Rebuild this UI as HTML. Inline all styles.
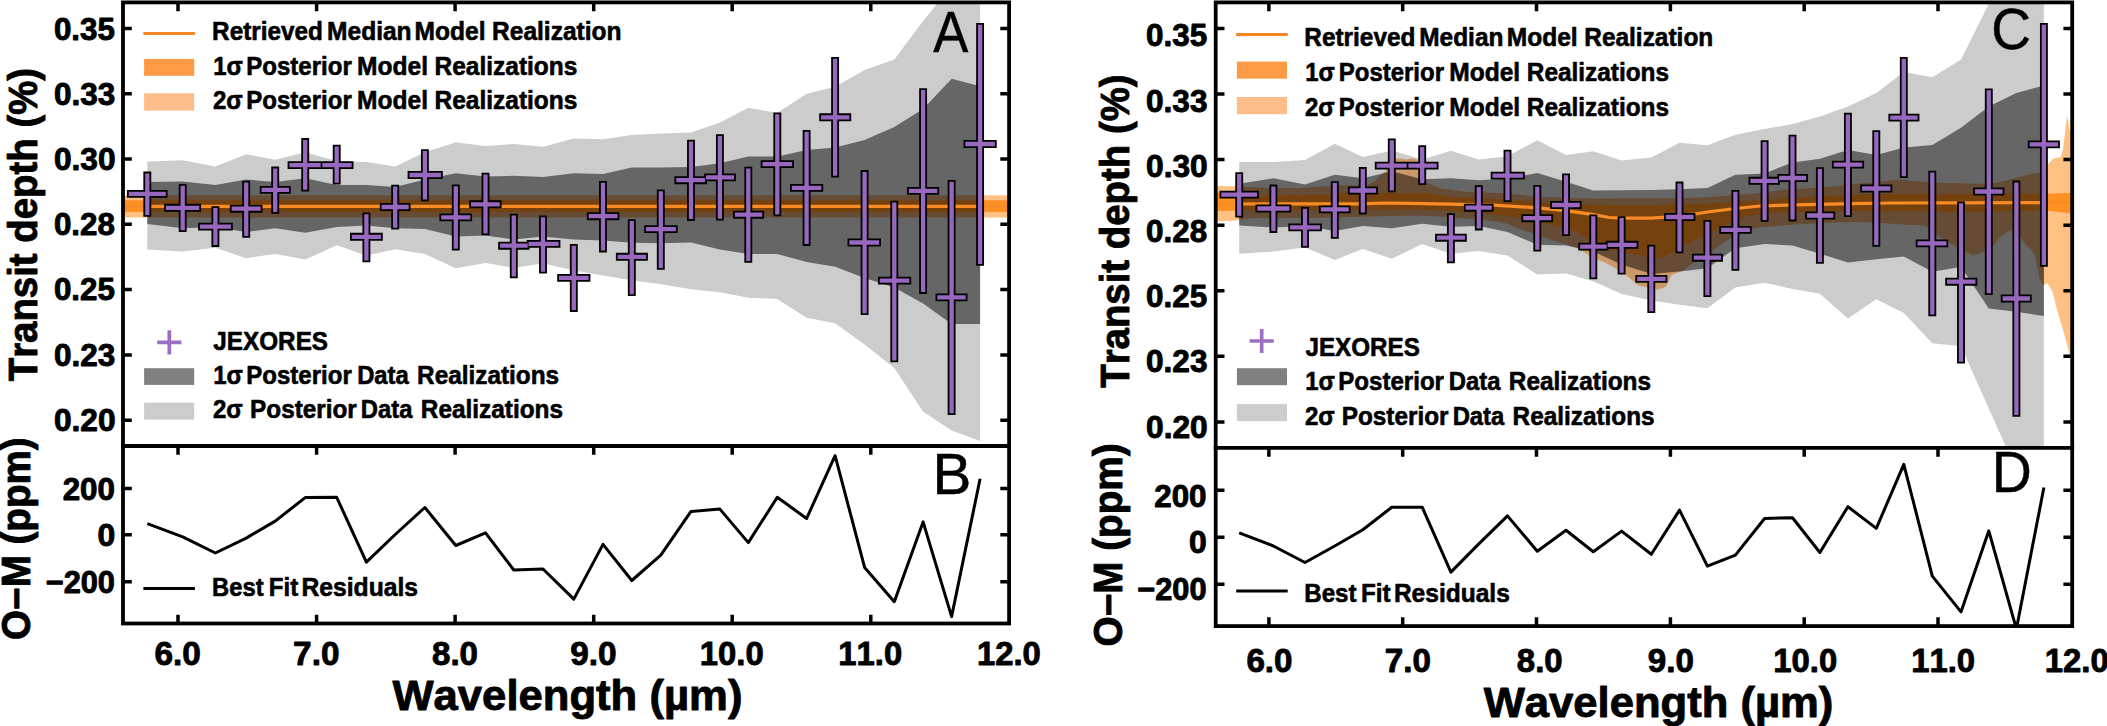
<!DOCTYPE html>
<html lang="en"><head><meta charset="utf-8"><title>Transit depth retrieval</title>
<style>html,body{margin:0;padding:0;background:#fff;overflow:hidden;}svg{display:block;}text{font-kerning:none;}</style></head><body>
<svg width="2107" height="726" viewBox="0 0 2107 726">
<rect width="2107" height="726" fill="#fff"/>
<clipPath id="cuL"><rect x="123.0" y="2.4" width="886.1" height="443.6"/></clipPath>
<clipPath id="clL"><rect x="123.0" y="446.0" width="886.1" height="177.5"/></clipPath>
<g clip-path="url(#cuL)">
<polygon points="120.0,195.3 1012.0,195.3 1012.0,217.4 120.0,217.4" fill="#ffc084"/>
<polygon points="120.0,200.2 1012.0,200.2 1012.0,212.1 120.0,212.1" fill="#ff9428"/>
<polygon points="147.3,161.4 182.7,160.2 215.4,166.4 246.2,154.2 275.2,159.7 305.2,152.2 336.7,160.9 366.4,162.1 395.2,166.4 424.9,152.2 455.8,142.3 485.5,146.0 513.8,144.0 543.0,146.8 573.8,138.6 603.0,139.3 631.8,134.9 660.8,133.6 691.0,132.4 719.9,122.6 748.3,107.8 777.3,112.8 806.6,93.7 835.1,86.8 864.6,69.9 894.3,59.5 923.1,21.0 951.6,-14.4 980.1,-45.0 980.1,441.0 951.6,430.6 923.1,411.8 894.3,367.9 864.6,344.4 835.1,323.3 806.6,317.8 777.3,299.0 748.3,297.7 719.9,292.2 691.0,289.2 660.8,284.3 631.8,280.3 603.0,275.4 573.8,270.6 543.0,263.3 513.8,268.0 485.5,263.0 455.8,268.2 424.9,254.1 395.2,249.3 366.4,255.5 336.7,245.2 305.2,259.6 275.2,253.9 246.2,258.3 215.4,247.7 182.7,251.4 147.3,249.4" fill="#000" fill-opacity="0.200"/>
<polygon points="147.3,182.0 182.7,181.5 215.4,185.0 246.2,179.5 275.2,182.0 305.2,178.3 336.7,185.0 366.4,185.0 395.2,187.0 424.9,179.5 455.8,173.3 485.5,176.5 513.8,175.8 543.0,177.0 573.8,173.3 603.0,174.0 631.8,167.6 660.8,167.6 691.0,167.1 719.9,163.2 748.3,156.4 777.3,156.4 806.6,150.0 835.1,147.5 864.6,140.0 894.3,127.0 923.1,109.0 951.6,78.8 980.1,86.3 980.1,324.0 951.6,324.0 923.1,303.4 894.3,287.5 864.6,277.9 835.1,266.8 806.6,262.0 777.3,254.0 748.3,254.0 719.9,249.6 691.0,242.4 660.8,243.2 631.8,242.7 603.0,240.6 573.8,239.6 543.0,236.5 513.8,239.5 485.5,235.5 455.8,236.5 424.9,229.1 395.2,228.3 366.4,225.4 336.7,227.1 305.2,232.8 275.2,228.3 246.2,232.0 215.4,227.1 182.7,228.3 147.3,224.1" fill="#000" fill-opacity="0.500"/>
<polygon points="120.0,200.2 1012.0,200.2 1012.0,212.1 120.0,212.1" fill="#ff7f0e" fill-opacity="0.1"/>
<polyline points="120.0,206.3 1012.0,206.3" fill="none" stroke="#f98c24" stroke-width="3.2"/>
<path d="M147.3 171.6V216.7M126.9 193.9H167.6M182.7 184.0V232.1M164.1 207.8H201.1M215.4 206.3V246.9M198.1 226.6H232.8M246.2 180.7V237.8M229.8 208.7H262.5M275.2 166.6V213.7M259.8 189.9H290.8M305.2 138.1V191.6M287.6 165.1H322.5M336.7 144.8V184.5M320.5 165.1H353.5M366.4 212.5V262.3M350.0 236.8H382.8M395.2 184.7V229.6M379.8 207.0H410.5M424.9 149.2V201.3M407.6 175.0H442.8M455.8 184.4V250.6M439.4 217.4H472.1M485.5 172.8V235.3M469.2 204.3H501.6M513.8 213.7V278.2M498.2 245.7H529.5M543.0 215.4V273.5M526.7 243.9H560.4M573.8 243.9V311.9M557.2 277.9H590.4M603.0 181.0V252.4M586.9 216.2H619.4M631.8 219.2V296.0M615.9 256.8H647.9M660.8 189.4V269.7M644.2 229.1H677.7M691.0 139.8V220.9M674.4 180.2H706.9M719.9 134.3V220.6M704.2 177.4H735.9M748.3 166.8V262.7M733.1 214.7H764.1M777.3 112.5V216.2M760.7 164.1H794.0M806.6 129.9V245.9M790.0 187.9H823.2M835.1 57.0V177.5M819.2 117.3H851.2M864.6 170.1V315.0M847.5 242.5H881.0M894.3 200.8V362.2M878.0 280.6H911.2M923.1 88.2V293.9M907.0 190.9H939.2M951.6 180.0V415.0M935.5 297.4H967.5M980.1 23.0V265.8M963.5 144.0H996.7" stroke="#000" stroke-width="7.90" fill="none"/>
<path d="M147.3 173.4V214.9M128.7 193.9H165.8M182.7 185.8V230.3M165.9 207.8H199.3M215.4 208.1V245.1M199.9 226.6H231.0M246.2 182.5V236.0M231.6 208.7H260.7M275.2 168.4V211.9M261.6 189.9H289.0M305.2 139.9V189.8M289.4 165.1H320.7M336.7 146.6V182.7M322.3 165.1H351.7M366.4 214.3V260.5M351.8 236.8H381.0M395.2 186.5V227.8M381.6 207.0H408.7M424.9 151.0V199.5M409.4 175.0H441.0M455.8 186.2V248.8M441.2 217.4H470.3M485.5 174.6V233.5M471.0 204.3H499.8M513.8 215.5V276.4M500.0 245.7H527.7M543.0 217.2V271.7M528.5 243.9H558.6M573.8 245.7V310.1M559.0 277.9H588.6M603.0 182.8V250.6M588.7 216.2H617.6M631.8 221.0V294.2M617.7 256.8H646.1M660.8 191.2V267.9M646.0 229.1H675.9M691.0 141.6V219.1M676.2 180.2H705.1M719.9 136.1V218.8M706.0 177.4H734.1M748.3 168.6V260.9M734.9 214.7H762.3M777.3 114.3V214.4M762.5 164.1H792.2M806.6 131.7V244.1M791.8 187.9H821.4M835.1 58.8V175.7M821.0 117.3H849.4M864.6 171.9V313.2M849.3 242.5H879.2M894.3 202.6V360.4M879.8 280.6H909.4M923.1 90.0V292.1M908.8 190.9H937.4M951.6 181.8V413.2M937.3 297.4H965.7M980.1 24.8V264.0M965.3 144.0H994.9" stroke="#9768be" stroke-width="4.30" fill="none"/>
</g>
<g clip-path="url(#clL)">
<polyline points="147.3,523.7 182.7,536.8 215.4,553.0 246.2,538.1 275.2,521.1 305.2,497.6 336.7,497.3 366.4,562.2 395.2,534.5 424.9,507.5 455.8,545.5 485.5,532.9 513.8,570.0 543.0,569.0 573.8,599.1 603.0,544.4 631.8,580.5 660.8,555.1 691.0,511.4 719.9,509.1 748.3,542.6 777.3,497.3 806.6,518.5 835.1,455.7 864.6,567.4 894.3,601.7 923.1,521.9 951.6,616.6 980.1,478.7" fill="none" stroke="#000" stroke-width="3.0" stroke-linejoin="round"/>
</g>
<g stroke="#000" stroke-width="3.8" fill="none" stroke-linecap="square">
<rect x="123.0" y="2.4" width="886.1" height="621.1"/>
<line x1="123.0" y1="446.0" x2="1009.1" y2="446.0"/>
</g>
<path d="M178.0 2.4v8.8M178.0 446.0v8.8M178.0 623.5v-8.8M316.6 2.4v8.8M316.6 446.0v8.8M316.6 623.5v-8.8M455.1 2.4v8.8M455.1 446.0v8.8M455.1 623.5v-8.8M593.7 2.4v8.8M593.7 446.0v8.8M593.7 623.5v-8.8M732.2 2.4v8.8M732.2 446.0v8.8M732.2 623.5v-8.8M870.8 2.4v8.8M870.8 446.0v8.8M870.8 623.5v-8.8M123.0 28.4h8.8M1009.1 28.4h-8.8M123.0 93.7h8.8M1009.1 93.7h-8.8M123.0 159.0h8.8M1009.1 159.0h-8.8M123.0 224.3h8.8M1009.1 224.3h-8.8M123.0 289.6h8.8M1009.1 289.6h-8.8M123.0 354.9h8.8M1009.1 354.9h-8.8M123.0 420.2h8.8M1009.1 420.2h-8.8M123.0 488.4h8.8M1009.1 488.4h-8.8M123.0 534.7h8.8M1009.1 534.7h-8.8M123.0 581.8h8.8M1009.1 581.8h-8.8" stroke="#000" stroke-width="3.5" fill="none"/>
<clipPath id="cuR"><rect x="1215.7" y="2.4" width="856.5" height="445.5"/></clipPath>
<clipPath id="clR"><rect x="1215.7" y="447.9" width="856.5" height="178.2"/></clipPath>
<g clip-path="url(#cuR)">
<polygon points="1213.0,186.0 1240.0,186.5 1271.0,188.0 1300.0,188.0 1339.0,185.3 1368.0,185.2 1376.0,180.0 1385.0,171.3 1396.0,159.0 1399.0,158.2 1406.0,159.6 1412.5,158.2 1417.0,159.6 1421.5,173.0 1426.4,182.3 1440.2,188.5 1467.7,192.0 1480.0,192.3 1507.5,193.5 1537.3,196.8 1566.0,197.8 1593.4,198.5 1651.0,198.2 1679.6,198.2 1707.4,197.2 1735.4,194.7 1755.0,193.5 1782.5,189.9 1823.9,187.2 1865.2,183.1 1901.0,179.6 1913.4,181.0 1947.8,183.1 1982.3,183.7 1996.0,183.1 2016.7,177.5 2030.5,174.1 2044.0,172.0 2048.5,164.0 2052.6,159.0 2060.8,156.8 2063.0,149.6 2067.0,115.5 2069.7,130.0 2075.0,135.0 2075.0,370.0 2070.0,356.0 2064.0,333.3 2057.8,312.6 2052.6,292.0 2047.4,283.3 2044.3,285.0 2042.9,284.4 2039.6,278.9 2037.4,267.9 2035.2,255.8 2030.8,249.2 2026.4,245.9 2020.9,238.1 2012.0,229.9 2007.7,231.5 1999.9,237.0 1993.3,245.9 1986.7,248.0 1982.3,252.5 1972.4,255.2 1966.9,252.5 1958.0,248.0 1947.0,241.5 1936.0,234.8 1925.0,225.5 1906.5,224.8 1865.2,222.1 1823.9,222.8 1782.5,225.5 1760.0,227.5 1748.6,229.6 1735.4,235.8 1725.2,241.3 1707.4,255.1 1694.9,262.0 1681.1,271.6 1671.5,275.1 1666.0,286.8 1657.7,289.8 1638.4,285.4 1621.6,271.6 1604.0,262.0 1593.4,257.9 1583.3,251.7 1576.4,247.5 1551.6,239.9 1521.3,229.6 1504.0,222.7 1480.0,219.5 1449.0,217.2 1421.6,215.5 1394.0,216.1 1339.0,217.2 1311.0,217.9 1250.0,218.0 1240.0,220.0 1229.0,221.0 1213.0,221.3" fill="#ffc084"/>
<polygon points="1213.0,192.4 1238.0,193.0 1245.0,195.8 1330.0,195.0 1345.0,192.9 1426.0,192.9 1449.0,196.5 1477.0,198.0 1507.5,199.6 1537.3,202.3 1566.0,203.7 1593.4,204.8 1621.6,205.1 1651.3,205.1 1679.6,204.4 1707.4,203.7 1735.4,201.6 1760.0,200.2 1796.3,197.5 1837.6,195.5 1879.0,194.1 2044.0,193.8 2075.0,193.0 2075.0,213.6 2044.3,210.6 1961.6,212.0 1920.3,211.3 1851.4,211.3 1796.3,212.0 1762.0,213.3 1741.7,217.9 1727.9,223.4 1707.4,234.4 1686.6,244.1 1672.8,252.3 1659.1,258.5 1638.4,255.1 1617.7,251.0 1597.1,245.5 1576.4,231.7 1548.9,224.1 1521.3,217.9 1480.0,212.8 1449.2,211.0 1421.6,209.6 1366.5,209.6 1339.0,210.0 1242.0,210.5 1213.0,211.0" fill="#ff9428"/>
<polygon points="1239.2,162.0 1273.4,162.0 1305.0,160.0 1334.8,143.8 1362.8,156.9 1391.8,150.4 1422.2,159.6 1450.9,150.7 1478.8,159.6 1507.5,156.2 1537.3,140.3 1566.0,155.1 1593.3,151.3 1621.6,160.6 1651.3,157.5 1679.5,142.7 1707.4,145.2 1735.4,134.8 1764.6,129.1 1792.5,124.0 1819.9,116.5 1847.9,106.6 1876.3,93.0 1903.8,71.9 1932.3,77.3 1961.0,59.5 1988.8,3.7 2016.4,-50.0 2043.9,-90.0 2043.9,520.0 2016.4,470.0 1988.8,408.5 1961.0,346.2 1932.3,343.3 1903.8,313.0 1876.3,299.3 1847.9,318.5 1819.9,293.7 1792.5,288.9 1764.6,282.7 1735.4,287.5 1707.4,308.2 1679.5,304.8 1651.3,300.6 1621.6,294.0 1593.3,281.3 1566.0,273.6 1537.3,274.5 1507.5,255.4 1478.8,250.9 1450.9,253.7 1422.2,244.0 1391.8,258.8 1362.8,248.9 1334.8,259.9 1305.0,247.5 1273.4,251.6 1239.2,253.7" fill="#000" fill-opacity="0.200"/>
<polygon points="1239.2,183.7 1273.4,178.2 1305.0,184.4 1334.8,174.8 1362.8,178.2 1391.8,171.3 1422.2,179.3 1450.9,178.2 1478.8,180.3 1507.5,178.5 1537.3,173.0 1566.0,181.7 1593.3,190.6 1621.6,190.3 1651.3,190.1 1679.5,189.2 1707.4,187.9 1735.4,174.8 1764.6,173.4 1792.5,162.4 1819.9,158.7 1847.9,150.0 1876.3,154.9 1903.8,147.5 1932.3,145.0 1961.0,127.7 1988.8,106.6 2016.4,93.0 2043.9,85.5 2043.9,316.0 2016.4,311.8 1988.8,308.4 1961.0,267.0 1932.3,271.7 1903.8,256.5 1876.3,259.3 1847.9,262.4 1819.9,253.7 1792.5,245.5 1764.6,244.0 1735.4,248.2 1707.4,268.2 1679.5,271.6 1651.3,274.0 1621.6,264.5 1593.3,251.5 1566.0,245.5 1537.3,244.8 1507.5,232.0 1478.8,226.1 1450.9,226.8 1422.2,223.8 1391.8,228.2 1362.8,226.1 1334.8,231.0 1305.0,226.1 1273.4,227.5 1239.2,225.5" fill="#000" fill-opacity="0.500"/>
<polygon points="1213.0,192.4 1238.0,193.0 1245.0,195.8 1330.0,195.0 1345.0,192.9 1426.0,192.9 1449.0,196.5 1477.0,198.0 1507.5,199.6 1537.3,202.3 1566.0,203.7 1593.4,204.8 1621.6,205.1 1651.3,205.1 1679.6,204.4 1707.4,203.7 1735.4,201.6 1760.0,200.2 1796.3,197.5 1837.6,195.5 1879.0,194.1 2044.0,193.8 2075.0,193.0 2075.0,213.6 2044.3,210.6 1961.6,212.0 1920.3,211.3 1851.4,211.3 1796.3,212.0 1762.0,213.3 1741.7,217.9 1727.9,223.4 1707.4,234.4 1686.6,244.1 1672.8,252.3 1659.1,258.5 1638.4,255.1 1617.7,251.0 1597.1,245.5 1576.4,231.7 1548.9,224.1 1521.3,217.9 1480.0,212.8 1449.2,211.0 1421.6,209.6 1366.5,209.6 1339.0,210.0 1242.0,210.5 1213.0,211.0" fill="#ff7f0e" fill-opacity="0.1"/>
<polyline points="1213.0,204.0 1360.0,203.8 1385.0,203.0 1410.0,203.3 1450.0,204.2 1493.8,205.1 1537.3,207.8 1566.0,210.6 1593.4,214.7 1609.5,217.5 1621.6,218.2 1651.3,218.2 1664.6,217.1 1679.6,215.4 1694.9,214.0 1707.4,212.0 1735.4,208.5 1760.0,206.0 1796.3,204.8 1851.4,203.7 1892.7,203.0 2044.3,202.6 2075.0,202.3" fill="none" stroke="#f98c24" stroke-width="3.2"/>
<path d="M1239.2 172.2V217.5M1219.5 194.6H1258.9M1273.4 184.6V232.9M1255.5 208.5H1291.2M1305.0 207.0V247.8M1288.3 227.4H1321.9M1334.8 181.3V238.7M1318.9 209.4H1350.6M1362.8 167.1V214.4M1347.9 190.5H1377.9M1391.8 138.5V192.2M1374.8 165.6H1408.5M1422.2 145.2V185.1M1406.6 165.6H1438.5M1450.9 213.2V263.3M1435.1 237.7H1466.8M1478.8 185.3V230.4M1463.9 207.7H1493.6M1507.5 149.7V202.0M1490.7 175.6H1524.8M1537.3 185.0V251.5M1521.4 218.2H1553.1M1566.0 173.4V236.1M1550.2 205.0H1581.6M1593.3 214.5V279.2M1578.3 246.6H1608.5M1621.6 216.2V274.5M1605.8 244.8H1638.4M1651.3 244.8V313.1M1635.3 278.9H1667.4M1679.5 181.6V253.3M1664.0 217.0H1695.4M1707.4 220.0V297.1M1692.0 257.7H1722.9M1735.4 190.0V270.7M1719.3 229.9H1751.7M1764.6 140.2V221.7M1748.5 180.8H1779.9M1792.5 134.7V221.4M1777.3 178.0H1808.0M1819.9 167.3V263.7M1805.2 215.5H1835.2M1847.9 112.8V217.0M1831.9 164.6H1864.1M1876.3 130.3V246.8M1860.2 188.5H1892.3M1903.8 57.0V178.1M1888.4 117.6H1919.4M1932.3 170.7V316.2M1915.8 243.4H1948.2M1961.0 201.5V363.6M1945.2 281.7H1977.3M1988.8 88.4V295.0M1973.2 191.5H2004.4M2016.4 180.6V416.7M2000.8 298.5H2031.7M2043.9 22.9V266.8M2027.8 144.4H2059.9" stroke="#000" stroke-width="7.90" fill="none"/>
<path d="M1239.2 174.0V215.7M1221.3 194.6H1257.1M1273.4 186.4V231.1M1257.3 208.5H1289.4M1305.0 208.8V246.0M1290.1 227.4H1320.1M1334.8 183.1V236.9M1320.7 209.4H1348.8M1362.8 168.9V212.6M1349.7 190.5H1376.1M1391.8 140.3V190.4M1376.6 165.6H1406.7M1422.2 147.0V183.3M1408.4 165.6H1436.7M1450.9 215.0V261.5M1436.9 237.7H1465.0M1478.8 187.1V228.6M1465.7 207.7H1491.8M1507.5 151.5V200.2M1492.5 175.6H1523.0M1537.3 186.8V249.7M1523.2 218.2H1551.3M1566.0 175.2V234.3M1552.0 205.0H1579.8M1593.3 216.3V277.4M1580.1 246.6H1606.7M1621.6 218.0V272.7M1607.6 244.8H1636.6M1651.3 246.6V311.3M1637.1 278.9H1665.6M1679.5 183.4V251.5M1665.8 217.0H1693.6M1707.4 221.8V295.3M1693.8 257.7H1721.1M1735.4 191.8V268.9M1721.1 229.9H1749.9M1764.6 142.0V219.9M1750.3 180.8H1778.1M1792.5 136.5V219.6M1779.1 178.0H1806.2M1819.9 169.1V261.9M1807.0 215.5H1833.4M1847.9 114.6V215.2M1833.7 164.6H1862.3M1876.3 132.1V245.0M1862.0 188.5H1890.5M1903.8 58.8V176.3M1890.2 117.6H1917.6M1932.3 172.5V314.4M1917.6 243.4H1946.4M1961.0 203.3V361.8M1947.0 281.7H1975.5M1988.8 90.2V293.2M1975.0 191.5H2002.6M2016.4 182.4V414.9M2002.6 298.5H2029.9M2043.9 24.7V265.0M2029.6 144.4H2058.1" stroke="#9768be" stroke-width="4.30" fill="none"/>
</g>
<g clip-path="url(#clR)">
<polyline points="1239.2,532.9 1273.4,546.0 1305.0,562.5 1334.8,546.0 1362.8,529.8 1391.8,507.2 1422.2,507.2 1450.9,572.1 1478.8,543.9 1507.5,515.9 1537.3,551.2 1566.0,530.3 1593.3,551.7 1621.6,531.1 1651.3,554.3 1679.5,510.1 1707.4,566.1 1735.4,555.1 1764.6,518.5 1792.5,517.7 1819.9,552.5 1847.9,506.7 1876.3,528.4 1903.8,464.3 1932.3,576.1 1961.0,611.9 1988.8,530.8 2016.4,629.0 2043.9,487.5" fill="none" stroke="#000" stroke-width="3.0" stroke-linejoin="round"/>
</g>
<g stroke="#000" stroke-width="3.8" fill="none" stroke-linecap="square">
<rect x="1215.7" y="2.4" width="856.5" height="623.7"/>
<line x1="1215.7" y1="447.9" x2="2072.2" y2="447.9"/>
</g>
<path d="M1268.9 2.4v8.8M1268.9 447.9v8.8M1268.9 626.1v-8.8M1402.7 2.4v8.8M1402.7 447.9v8.8M1402.7 626.1v-8.8M1536.5 2.4v8.8M1536.5 447.9v8.8M1536.5 626.1v-8.8M1670.4 2.4v8.8M1670.4 447.9v8.8M1670.4 626.1v-8.8M1804.2 2.4v8.8M1804.2 447.9v8.8M1804.2 626.1v-8.8M1938.0 2.4v8.8M1938.0 447.9v8.8M1938.0 626.1v-8.8M1215.7 28.5h8.8M2072.2 28.5h-8.8M1215.7 94.1h8.8M2072.2 94.1h-8.8M1215.7 159.6h8.8M2072.2 159.6h-8.8M1215.7 225.2h8.8M2072.2 225.2h-8.8M1215.7 290.8h8.8M2072.2 290.8h-8.8M1215.7 356.3h8.8M2072.2 356.3h-8.8M1215.7 421.9h8.8M2072.2 421.9h-8.8M1215.7 490.2h8.8M2072.2 490.2h-8.8M1215.7 537.3h8.8M2072.2 537.3h-8.8M1215.7 584.2h8.8M2072.2 584.2h-8.8" stroke="#000" stroke-width="3.5" fill="none"/>
<line x1="143.4" y1="33.5" x2="194.9" y2="33.5" stroke="#f28422" stroke-width="3.0"/>
<rect x="144.1" y="58.9" width="50.1" height="16.9" fill="#fd9a45"/>
<rect x="144.1" y="93.3" width="50.1" height="17.3" fill="#fdbe8b"/>
<rect x="144.1" y="368.2" width="50.1" height="16.7" fill="#808080"/>
<rect x="144.1" y="402.6" width="50.1" height="17.0" fill="#cccccc"/>
<path d="M157.2 342.3H181.4M169.3 330.2V354.4" stroke="#9d6fc4" stroke-width="3.7" fill="none"/>
<line x1="143.4" y1="588.4" x2="194.9" y2="588.4" stroke="#000" stroke-width="3"/>
<line x1="1236.2" y1="34.5" x2="1287.7" y2="34.5" stroke="#f28422" stroke-width="3.0"/>
<rect x="1236.9" y="61.6" width="50.1" height="17.1" fill="#fd9a45"/>
<rect x="1236.9" y="97.0" width="50.1" height="17.2" fill="#fdbe8b"/>
<rect x="1236.9" y="368.2" width="50.1" height="17.0" fill="#808080"/>
<rect x="1236.9" y="404.1" width="50.1" height="17.0" fill="#cccccc"/>
<path d="M1249.6 341.0H1273.8M1261.7 328.9V353.1" stroke="#9d6fc4" stroke-width="3.7" fill="none"/>
<line x1="1236.2" y1="591.0" x2="1287.7" y2="591.0" stroke="#000" stroke-width="3"/>
<g font-family="'Liberation Sans', Arial, Helvetica, sans-serif" font-weight="bold" fill="#000" stroke="#000" stroke-width="0.9" stroke-linejoin="round">
<text x="53.95" y="39.50" font-size="31.40" textLength="60.98" lengthAdjust="spacingAndGlyphs">0.35</text>
<text x="53.94" y="104.70" font-size="31.40" textLength="61.31" lengthAdjust="spacingAndGlyphs">0.33</text>
<text x="53.93" y="169.90" font-size="31.40" textLength="61.64" lengthAdjust="spacingAndGlyphs">0.30</text>
<text x="53.95" y="235.10" font-size="31.40" textLength="60.98" lengthAdjust="spacingAndGlyphs">0.28</text>
<text x="53.95" y="300.30" font-size="31.40" textLength="60.98" lengthAdjust="spacingAndGlyphs">0.25</text>
<text x="53.94" y="365.50" font-size="31.40" textLength="61.31" lengthAdjust="spacingAndGlyphs">0.23</text>
<text x="53.93" y="430.70" font-size="31.40" textLength="61.64" lengthAdjust="spacingAndGlyphs">0.20</text>
<text x="62.66" y="500.20" font-size="31.40" textLength="52.25" lengthAdjust="spacingAndGlyphs">200</text>
<text x="97.42" y="545.90" font-size="31.40" textLength="17.75" lengthAdjust="spacingAndGlyphs">0</text>
<text x="45.67" y="592.80" font-size="31.40" textLength="69.34" lengthAdjust="spacingAndGlyphs">−200</text>
<text x="154.52" y="665.10" font-size="34.00" textLength="46.37" lengthAdjust="spacingAndGlyphs">6.0</text>
<text x="293.08" y="665.10" font-size="34.00" textLength="46.37" lengthAdjust="spacingAndGlyphs">7.0</text>
<text x="431.98" y="665.10" font-size="34.00" textLength="46.02" lengthAdjust="spacingAndGlyphs">8.0</text>
<text x="570.20" y="665.10" font-size="34.00" textLength="46.37" lengthAdjust="spacingAndGlyphs">9.0</text>
<text x="699.77" y="665.10" font-size="34.00" textLength="63.89" lengthAdjust="spacingAndGlyphs">10.0</text>
<text x="838.33" y="665.10" font-size="34.00" textLength="63.89" lengthAdjust="spacingAndGlyphs">11.0</text>
<text x="976.89" y="665.10" font-size="34.00" textLength="63.89" lengthAdjust="spacingAndGlyphs">12.0</text>
<text x="392.40" y="709.90" font-size="42.60" textLength="350.03" lengthAdjust="spacingAndGlyphs">Wavelength (µm)</text>
<text transform="translate(37.10,381.28) rotate(-90)" font-size="40.20" textLength="313.37" lengthAdjust="spacingAndGlyphs">Transit depth (%)</text>
<text transform="translate(30.30,639.94) rotate(-90)" font-size="40.00" textLength="202.66" lengthAdjust="spacingAndGlyphs">O−M (ppm)</text>
<text x="1146.04" y="46.35" font-size="31.40" textLength="61.08" lengthAdjust="spacingAndGlyphs">0.35</text>
<text x="1146.04" y="111.55" font-size="31.40" textLength="61.41" lengthAdjust="spacingAndGlyphs">0.33</text>
<text x="1146.03" y="176.75" font-size="31.40" textLength="61.74" lengthAdjust="spacingAndGlyphs">0.30</text>
<text x="1146.04" y="241.95" font-size="31.40" textLength="61.08" lengthAdjust="spacingAndGlyphs">0.28</text>
<text x="1146.04" y="307.15" font-size="31.40" textLength="61.08" lengthAdjust="spacingAndGlyphs">0.25</text>
<text x="1146.04" y="372.35" font-size="31.40" textLength="61.41" lengthAdjust="spacingAndGlyphs">0.23</text>
<text x="1146.03" y="437.55" font-size="31.40" textLength="61.74" lengthAdjust="spacingAndGlyphs">0.20</text>
<text x="1154.26" y="506.60" font-size="31.40" textLength="52.25" lengthAdjust="spacingAndGlyphs">200</text>
<text x="1189.02" y="552.60" font-size="31.40" textLength="17.75" lengthAdjust="spacingAndGlyphs">0</text>
<text x="1137.27" y="599.50" font-size="31.40" textLength="69.34" lengthAdjust="spacingAndGlyphs">−200</text>
<text x="1246.42" y="671.60" font-size="33.80" textLength="46.16" lengthAdjust="spacingAndGlyphs">6.0</text>
<text x="1384.72" y="671.60" font-size="33.80" textLength="46.16" lengthAdjust="spacingAndGlyphs">7.0</text>
<text x="1516.86" y="671.60" font-size="33.80" textLength="45.81" lengthAdjust="spacingAndGlyphs">8.0</text>
<text x="1647.82" y="671.60" font-size="33.80" textLength="46.16" lengthAdjust="spacingAndGlyphs">9.0</text>
<text x="1773.33" y="671.60" font-size="33.80" textLength="63.89" lengthAdjust="spacingAndGlyphs">10.0</text>
<text x="1911.23" y="671.60" font-size="33.80" textLength="63.89" lengthAdjust="spacingAndGlyphs">11.0</text>
<text x="2044.83" y="671.60" font-size="33.80" textLength="63.89" lengthAdjust="spacingAndGlyphs">12.0</text>
<text x="1483.70" y="716.60" font-size="42.60" textLength="349.63" lengthAdjust="spacingAndGlyphs">Wavelength (µm)</text>
<text transform="translate(1129.30,387.78) rotate(-90)" font-size="40.20" textLength="313.37" lengthAdjust="spacingAndGlyphs">Transit depth (%)</text>
<text transform="translate(1121.60,646.45) rotate(-90)" font-size="40.00" textLength="203.06" lengthAdjust="spacingAndGlyphs">O−M (ppm)</text>
<text y="40.00" font-size="25.50" stroke-width="0.6"><tspan x="212.10" textLength="110.85" lengthAdjust="spacingAndGlyphs">Retrieved</tspan> <tspan x="327.08" textLength="84.51" lengthAdjust="spacingAndGlyphs">Median</tspan> <tspan x="414.58" textLength="70.91" lengthAdjust="spacingAndGlyphs">Model</tspan> <tspan x="492.08" textLength="129.36" lengthAdjust="spacingAndGlyphs">Realization</tspan></text>
<text y="74.50" font-size="25.50" stroke-width="0.6"><tspan x="213.17" textLength="29.62" lengthAdjust="spacingAndGlyphs">1σ</tspan> <tspan x="246.32" textLength="105.47" lengthAdjust="spacingAndGlyphs">Posterior</tspan> <tspan x="357.08" textLength="70.91" lengthAdjust="spacingAndGlyphs">Model</tspan> <tspan x="434.59" textLength="142.81" lengthAdjust="spacingAndGlyphs">Realizations</tspan></text>
<text y="108.80" font-size="25.50" stroke-width="0.6"><tspan x="212.98" textLength="29.81" lengthAdjust="spacingAndGlyphs">2σ</tspan> <tspan x="246.32" textLength="105.47" lengthAdjust="spacingAndGlyphs">Posterior</tspan> <tspan x="357.08" textLength="70.91" lengthAdjust="spacingAndGlyphs">Model</tspan> <tspan x="434.59" textLength="142.81" lengthAdjust="spacingAndGlyphs">Realizations</tspan></text>
<text y="349.50" font-size="25.50" stroke-width="0.6"><tspan x="213.31" textLength="114.76" lengthAdjust="spacingAndGlyphs">JEXORES</tspan></text>
<text y="383.80" font-size="25.50" stroke-width="0.6"><tspan x="213.17" textLength="29.62" lengthAdjust="spacingAndGlyphs">1σ</tspan> <tspan x="246.32" textLength="105.47" lengthAdjust="spacingAndGlyphs">Posterior</tspan> <tspan x="357.13" textLength="51.61" lengthAdjust="spacingAndGlyphs">Data</tspan> <tspan x="417.10" textLength="142.00" lengthAdjust="spacingAndGlyphs">Realizations</tspan></text>
<text y="417.50" font-size="25.50" stroke-width="0.6"><tspan x="212.98" textLength="29.81" lengthAdjust="spacingAndGlyphs">2σ</tspan> <tspan x="250.10" textLength="106.69" lengthAdjust="spacingAndGlyphs">Posterior</tspan> <tspan x="360.83" textLength="51.61" lengthAdjust="spacingAndGlyphs">Data</tspan> <tspan x="420.79" textLength="142.30" lengthAdjust="spacingAndGlyphs">Realizations</tspan></text>
<text y="595.70" font-size="25.50" stroke-width="0.6"><tspan x="212.04" textLength="51.54" lengthAdjust="spacingAndGlyphs">Best</tspan> <tspan x="268.82" textLength="29.36" lengthAdjust="spacingAndGlyphs">Fit</tspan> <tspan x="301.47" textLength="116.62" lengthAdjust="spacingAndGlyphs">Residuals</tspan></text>
<text y="46.30" font-size="25.50" stroke-width="0.6"><tspan x="1304.29" textLength="111.16" lengthAdjust="spacingAndGlyphs">Retrieved</tspan> <tspan x="1419.29" textLength="84.09" lengthAdjust="spacingAndGlyphs">Median</tspan> <tspan x="1506.78" textLength="70.91" lengthAdjust="spacingAndGlyphs">Model</tspan> <tspan x="1584.29" textLength="128.95" lengthAdjust="spacingAndGlyphs">Realization</tspan></text>
<text y="80.80" font-size="25.50" stroke-width="0.6"><tspan x="1305.17" textLength="29.62" lengthAdjust="spacingAndGlyphs">1σ</tspan> <tspan x="1338.82" textLength="105.16" lengthAdjust="spacingAndGlyphs">Posterior</tspan> <tspan x="1449.28" textLength="70.91" lengthAdjust="spacingAndGlyphs">Model</tspan> <tspan x="1526.79" textLength="142.30" lengthAdjust="spacingAndGlyphs">Realizations</tspan></text>
<text y="115.50" font-size="25.50" stroke-width="0.6"><tspan x="1304.98" textLength="29.81" lengthAdjust="spacingAndGlyphs">2σ</tspan> <tspan x="1338.82" textLength="105.16" lengthAdjust="spacingAndGlyphs">Posterior</tspan> <tspan x="1449.28" textLength="70.91" lengthAdjust="spacingAndGlyphs">Model</tspan> <tspan x="1526.79" textLength="142.30" lengthAdjust="spacingAndGlyphs">Realizations</tspan></text>
<text y="355.80" font-size="25.50" stroke-width="0.6"><tspan x="1305.52" textLength="114.35" lengthAdjust="spacingAndGlyphs">JEXORES</tspan></text>
<text y="390.00" font-size="25.50" stroke-width="0.6"><tspan x="1305.17" textLength="29.62" lengthAdjust="spacingAndGlyphs">1σ</tspan> <tspan x="1338.32" textLength="105.67" lengthAdjust="spacingAndGlyphs">Posterior</tspan> <tspan x="1448.83" textLength="51.61" lengthAdjust="spacingAndGlyphs">Data</tspan> <tspan x="1508.79" textLength="142.30" lengthAdjust="spacingAndGlyphs">Realizations</tspan></text>
<text y="424.50" font-size="25.50" stroke-width="0.6"><tspan x="1304.98" textLength="29.81" lengthAdjust="spacingAndGlyphs">2σ</tspan> <tspan x="1341.80" textLength="106.69" lengthAdjust="spacingAndGlyphs">Posterior</tspan> <tspan x="1452.63" textLength="51.61" lengthAdjust="spacingAndGlyphs">Data</tspan> <tspan x="1512.60" textLength="142.00" lengthAdjust="spacingAndGlyphs">Realizations</tspan></text>
<text y="601.50" font-size="25.50" stroke-width="0.6"><tspan x="1304.21" textLength="52.37" lengthAdjust="spacingAndGlyphs">Best</tspan> <tspan x="1361.00" textLength="29.69" lengthAdjust="spacingAndGlyphs">Fit</tspan> <tspan x="1393.88" textLength="115.90" lengthAdjust="spacingAndGlyphs">Residuals</tspan></text>
</g>
<g font-family="'Liberation Sans', Arial, Helvetica, sans-serif" font-weight="normal" fill="#000" stroke="#000" stroke-width="0.5" stroke-linejoin="round">
<text x="933.30" y="51.60" font-size="57.20" textLength="35.07" lengthAdjust="spacingAndGlyphs" font-weight="normal">A</text>
<text x="932.44" y="494.00" font-size="57.20" textLength="38.89" lengthAdjust="spacingAndGlyphs" font-weight="normal">B</text>
<text x="1991.15" y="49.40" font-size="57.40" textLength="39.78" lengthAdjust="spacingAndGlyphs" font-weight="normal">C</text>
<text x="1991.77" y="491.60" font-size="56.70" textLength="40.03" lengthAdjust="spacingAndGlyphs" font-weight="normal">D</text>
</g>
</svg></body></html>
